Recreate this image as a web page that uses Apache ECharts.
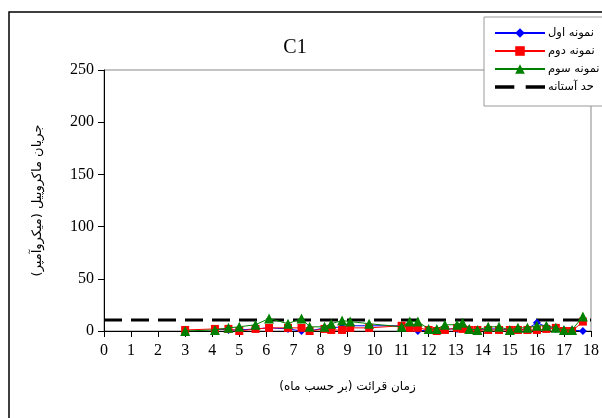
<!DOCTYPE html>
<html><head><meta charset="utf-8">
<script src="https://cdn.jsdelivr.net/npm/echarts@6/dist/echarts.min.js"></script>
<style>html,body{margin:0;padding:0;background:#fff}#c{width:602px;height:418px}</style>
</head><body><div id="c"></div>
<script>
var months = [3, 4.1, 4.6, 5.0, 5.6, 6.1, 6.8, 7.3, 7.6, 8.15, 8.4, 8.8, 9.1, 9.8, 11.0, 11.3, 11.6, 12.0, 12.3, 12.6, 13.05, 13.25, 13.5, 13.8, 14.2, 14.6, 15.0, 15.3, 15.65, 16.0, 16.35, 16.7, 17.0, 17.3, 17.7];
var sample1 = [null, 2, 1, 1, 2, 3, 2, 0, 0, 3, 3, 4, 5, 5, 5, 4, 0, 1, 1, 2, 2, 3, 2, 1, 2, 2, 1, 1, 2, 8, 4, 2, 1, 1, 0];
var sample2 = [1, 2, 2, 0, 2, 3, 3, 3, 0, 2, 1, 1, 3, 3, 5, 3, 3, 1, 0, 1, 3, 2, 1, 1, 1, 1, 1, 1, 1, 1, 2, 3, 0, 0, 9];
var sample3 = [0, 1, 3, 4, 6, 12, 7, 12, 4, 4, 7, 10, 9, 7, 4, 9, 9, 2, 2, 6, 6, 8, 2, 1, 4, 4, 1, 3, 3, 5, 5, 3, 1, 1, 14];
var thresholdX = [0, 18];
var thresholdY = [10.5, 10.5];
var seriesNames = ['نمونه اول', 'نمونه دوم', 'نمونه سوم', 'حد آستانه'];
var title = 'C1';
var xName = 'زمان قرائت (بر حسب ماه)';
var yName = 'جریان ماکروپیل (میکروآمپر)';

function pairs(xs, ys){ var out=[]; for(var i=0;i<xs.length;i++){ if(ys[i]!==null) out.push([xs[i], ys[i]]);} return out; }

var chart = echarts.init(document.getElementById('c'), null, {renderer:'canvas'});
var serif = 'Liberation Serif';
var arabic = 'DejaVu Sans';
chart.setOption({
  animation:false,
  backgroundColor:'#fff',
  title:{text:title, left:290, top:33, textAlign:'center', textStyle:{fontFamily:serif, fontSize:20, fontWeight:'normal', color:'#000'}},
  graphic:[{type:'rect', shape:{x:9, y:12, width:620, height:440}, style:{fill:null, stroke:'#000', lineWidth:1.5}, z:-1}],
  legend:{orient:'vertical', left:484, top:17, width:118, padding:[10,4,13,10], itemGap:6, itemWidth:50, itemHeight:12,
    backgroundColor:'#fff', borderColor:'#999', borderWidth:1,
    textStyle:{fontFamily:arabic, fontSize:11.5, color:'#000', padding:[0,0,0,-2]},
    data:[seriesNames[0], seriesNames[1], seriesNames[2],
      {name:seriesNames[3], icon:'path://M0,0H17V3H0Z M27,0H44V3H27Z', itemStyle:{color:'#000'}}]},
  grid:{left:104, right:10, top:70, bottom:87, show:true, borderColor:'#888', borderWidth:1},
  xAxis:{type:'value', min:0, max:18, interval:1, name:xName, nameLocation:'middle', nameGap:50,
    nameTextStyle:{fontFamily:arabic, fontSize:12, color:'#000'},
    axisLine:{lineStyle:{color:'#000', width:1}}, axisTick:{inside:false, length:6, lineStyle:{color:'#000'}},
    axisLabel:{fontFamily:serif, fontSize:16, color:'#000', margin:12}, splitLine:{show:false}},
  yAxis:{type:'value', min:0, max:250, interval:50, name:yName, nameLocation:'middle', nameGap:60, nameRotate:90,
    nameTextStyle:{fontFamily:arabic, fontSize:13, color:'#000'},
    axisLine:{show:true, lineStyle:{color:'#000', width:1}}, axisTick:{show:true, length:6, lineStyle:{color:'#000'}},
    axisLabel:{fontFamily:serif, fontSize:16, color:'#000', margin:10}, splitLine:{show:false}},
  series:[
    {name:seriesNames[0], type:'line', data:pairs(months, sample1), symbol:'diamond', symbolSize:8,
      lineStyle:{color:'#0000ff', width:1}, itemStyle:{color:'#0000ff'}, z:3},
    {name:seriesNames[1], type:'line', data:pairs(months, sample2), symbol:'rect', symbolSize:8,
      lineStyle:{color:'#ff0000', width:1}, itemStyle:{color:'#ff0000'}, z:4},
    {name:seriesNames[2], type:'line', data:pairs(months, sample3), symbol:'triangle', symbolSize:10,
      lineStyle:{color:'#008000', width:1}, itemStyle:{color:'#008000'}, z:5},
    {name:seriesNames[3], type:'line', data:pairs(thresholdX, thresholdY), symbol:'none',
      lineStyle:{color:'#000', width:3, type:[18,9]}, itemStyle:{color:'#000'}, z:2}
  ]
});
</script></body></html>
